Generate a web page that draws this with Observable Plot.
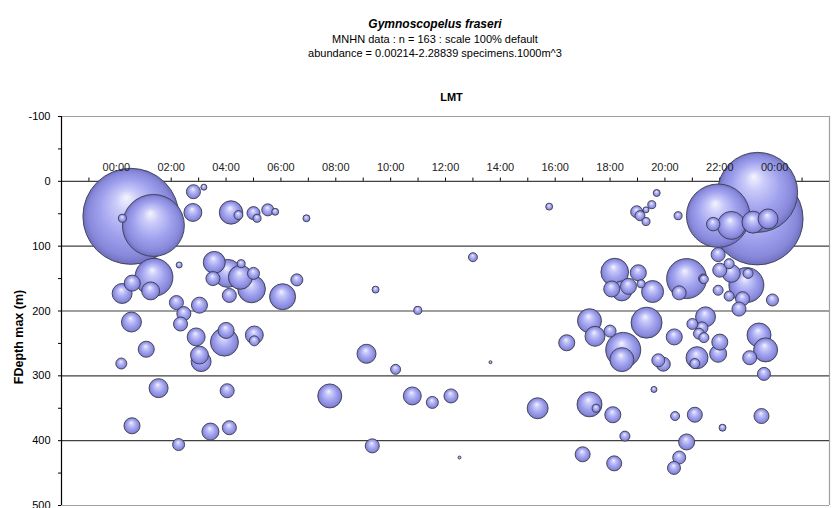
<!DOCTYPE html>
<html>
<head>
<meta charset="utf-8">
<script src="https://cdn.jsdelivr.net/npm/d3@7"></script>
<script src="https://cdn.jsdelivr.net/npm/@observablehq/plot@0.6"></script>
<style>
  html, body { margin: 0; padding: 0; background: #fff; }
  body { width: 834px; height: 508px; overflow: hidden; font-family: "Liberation Sans", Arial, sans-serif; }
  #head { position: relative; width: 834px; height: 60px; }
  #head div { position: absolute; left: 0; width: 870px; text-align: center; color: #000; white-space: nowrap; }
  #t1 { top: 17px; font-size: 12px; line-height: 14px; font-weight: bold; font-style: italic; }
  #t2 { top: 32px; font-size: 11px; line-height: 14px; }
  #t3 { top: 46px; font-size: 11px; line-height: 14px; }
  svg { display: block; }
</style>
</head>
<body>
<div id="head">
  <div id="t1">Gymnoscopelus fraseri</div>
  <div id="t2">MNHN data : n = 163 : scale 100% default</div>
  <div id="t3">abundance = 0.00214-2.28839 specimens.1000m^3</div>
</div>
<div id="chart"></div>
<script>
// Local mean time (hours, may run past 24 near midnight), max depth (m), abundance (specimens/1000 m^3)
const hours = [
  0.53, 1.35, 21.94, 23.38, 23.36,
  0.22, 2.81, 3.19, 2.79, 4.18, 4.45, 5.00, 5.13, 5.52, 5.79, 6.93,
  1.37, 0.58, 0.21, 1.25, 2.29, 3.57, 4.06, 4.55, 3.52, 4.52, 5.00, 4.93, 4.12, 6.06, 6.58, 3.03, 2.19,
  2.46, 2.34, 0.55, 2.91, 3.94, 4.00, 5.03, 5.03, 1.09, 0.18, 3.03, 3.09,
  1.54, 4.04, 0.57, 3.43, 4.12, 2.27,
  7.78, 15.78, 13.00, 9.45, 10.99, 9.12, 10.18, 13.64, 10.79, 11.52, 12.20, 15.36, 9.33, 12.51, 17.00, 16.42, 17.25, 17.45, 17.25, 17.49,
  19.70, 19.52, 18.97, 19.09, 19.31, 19.31, 20.48, 21.76, 22.42, 23.21, 23.76,
  21.94, 22.00, 22.34, 22.42, 22.97, 23.03, 21.94, 21.39, 22.34, 22.83, 22.70, 23.92, 18.17, 19.03, 18.06, 18.43, 18.67, 19.13, 19.55, 20.79, 21.42, 20.52,
  18.00, 19.33, 18.48, 18.43, 20.34, 19.76, 19.94, 21.48, 21.00, 21.35, 21.24, 21.42, 21.17, 21.09, 22.00, 21.94, 23.43, 23.67, 23.09, 23.61,
  18.10, 19.60, 20.37, 21.09, 22.10, 23.52, 18.54, 20.79, 18.15, 20.52, 20.33
];
const depths = [
  54, 68, 53, 17, 58,
  57, 16, 9, 48, 48, 52, 49, 57, 44, 47, 57,
  148, 157, 173, 169, 129, 125, 142, 127, 150, 148, 142, 166, 176, 178, 152, 191, 187,
  204, 220, 217, 240, 248, 230, 237, 246, 259, 281, 268, 278,
  319, 323, 377, 386, 380, 406,
  331, 39, 117, 167, 199, 266, 290, 279, 331, 341, 331, 350, 408, 426, 421, 249, 215, 239, 344, 350,
  18, 36, 47, 53, 44, 62, 53, 66, 68, 63, 58,
  113, 137, 127, 142, 160, 142, 168, 150, 177, 181, 197, 183, 140, 141, 166, 169, 162, 158, 170, 150, 151, 172,
  231, 218, 260, 275, 240, 276, 282, 209, 220, 226, 235, 241, 272, 281, 248, 266, 237, 260, 272, 297,
  360, 321, 362, 360, 380, 362, 393, 402, 435, 426, 442
];
const abundance = [
  2.28839, 0.954, 0.998, 1.589, 2.101,
  0.016, 0.049, 0.009, 0.080, 0.136, 0.020, 0.042, 0.016, 0.036, 0.012, 0.012,
  0.358, 0.064, 0.099, 0.080, 0.009, 0.120, 0.195, 0.016, 0.049, 0.143, 0.036, 0.190, 0.049, 0.168, 0.036, 0.064, 0.049,
  0.049, 0.049, 0.099, 0.080, 0.195, 0.064, 0.080, 0.025, 0.064, 0.030, 0.080, 0.099,
  0.090, 0.049, 0.064, 0.072, 0.049, 0.036,
  0.143, 0.012, 0.020, 0.012, 0.016, 0.090, 0.025, 0.00214, 0.080, 0.036, 0.049, 0.109, 0.049, 0.0022, 0.056, 0.064, 0.143, 0.099, 0.155, 0.016,
  0.012, 0.016, 0.036, 0.025, 0.009, 0.016, 0.016, 0.045, 0.195, 0.120, 0.099,
  0.049, 0.049, 0.025, 0.080, 0.304, 0.025, 0.025, 0.020, 0.025, 0.049, 0.049, 0.036, 0.190, 0.064, 0.064, 0.099, 0.064, 0.016, 0.120, 0.397, 0.020, 0.049,
  0.036, 0.239, 0.304, 0.143, 0.064, 0.042, 0.049, 0.099, 0.030, 0.036, 0.030, 0.025, 0.120, 0.025, 0.064, 0.072, 0.143, 0.143, 0.049, 0.042,
  0.064, 0.009, 0.020, 0.056, 0.012, 0.056, 0.025, 0.064, 0.056, 0.042, 0.042
];

const tickHours = [-1,0,1,2,3,4,5,6,7,8,9,10,11,12,13,14,15,16,17,18,19,20,21,22,23,24,25];
const labelHours = [0,2,4,6,8,10,12,14,16,18,20,22,24];
const hourLabels = ["00:00","02:00","04:00","06:00","08:00","10:00","12:00","14:00","16:00","18:00","20:00","22:00","00:00"];
const gridDepths = [0,100,200,300,400];
const frameDepths = [-100,500];
const majorDepths = [-100,0,100,200,300,400,500];
const minorDepths = [-50,50,150,250,350,450];

const pts = hours.map((h, i) => ({h, d: depths[i], a: abundance[i]}));
// Draw order: the largest overlapping spheres first (in their stacking order), then the rest largest-first
const ordered = [...pts.slice(0, 5), ...d3.sort(pts.slice(5), p => -p.a)];

const chart = Plot.plot({
  width: 834,
  height: 448,
  marginTop: 56,
  marginBottom: 3,
  marginLeft: 61,
  marginRight: 5,
  style: {fontFamily: "'Liberation Sans', Arial, sans-serif", fontSize: "11px", color: "#000", background: "#fff", overflow: "visible"},
  x: {domain: [-2, 26], axis: null},
  y: {domain: [-100, 500], reverse: true, axis: null},
  r: {type: "sqrt", domain: [0, 2.28839], range: [0, 48]},
  marks: [
    Plot.ruleY(frameDepths, {stroke: "#a0a0a0", strokeWidth: 1.2}),
    Plot.ruleX([26], {stroke: "#a0a0a0", strokeWidth: 1.2}),
    Plot.ruleY(gridDepths, {stroke: "#404040", strokeWidth: 1.2}),
    Plot.axisY({ticks: majorDepths, tickSize: 3, tickPadding: 8, fontSize: 11, label: null, stroke: "#000", tickFormat: d => String(d)}),
    Plot.axisY({ticks: minorDepths, tickSize: 3, tickFormat: () => "", label: null, stroke: "#000"}),
    Plot.ruleX([-2], {stroke: "#000", strokeWidth: 1.2}),
    Plot.ruleX(tickHours, {x: d => d, y1: 0, y2: -5, stroke: "#000"}),
    Plot.dot(ordered, {x: "h", y: "d", r: "a", fill: "url(#sphere)", stroke: "#3c3c50", strokeWidth: 0.9}),
    Plot.text(labelHours, {x: d => d, y: 0, dy: -13.5, text: (d, i) => hourLabels[i], fontSize: 11, fill: "#222"}),
    Plot.text(["LMT"], {frameAnchor: "top", dx: 6, dy: -19.5, lineAnchor: "middle", fontWeight: "bold", fontSize: 11}),
    Plot.text(["FDepth max (m)"], {frameAnchor: "left", textAnchor: "middle", lineAnchor: "middle", rotate: -90, dx: -42.7, dy: 26, fontWeight: "bold", fontSize: 12.5})
  ]
});

d3.select(chart).insert("defs", ":first-child").html(`
  <radialGradient id="sphere" cx="0.5" cy="0.5" r="0.5" fx="0.45" fy="0.3">
    <stop offset="0" stop-color="#f4f4ff"/>
    <stop offset="0.25" stop-color="#c9caf9"/>
    <stop offset="0.6" stop-color="#a1a2ee"/>
    <stop offset="0.88" stop-color="#8788da"/>
    <stop offset="1" stop-color="#6e70be"/>
  </radialGradient>`);

document.getElementById("chart").appendChild(chart);
</script>
</body>
</html>
